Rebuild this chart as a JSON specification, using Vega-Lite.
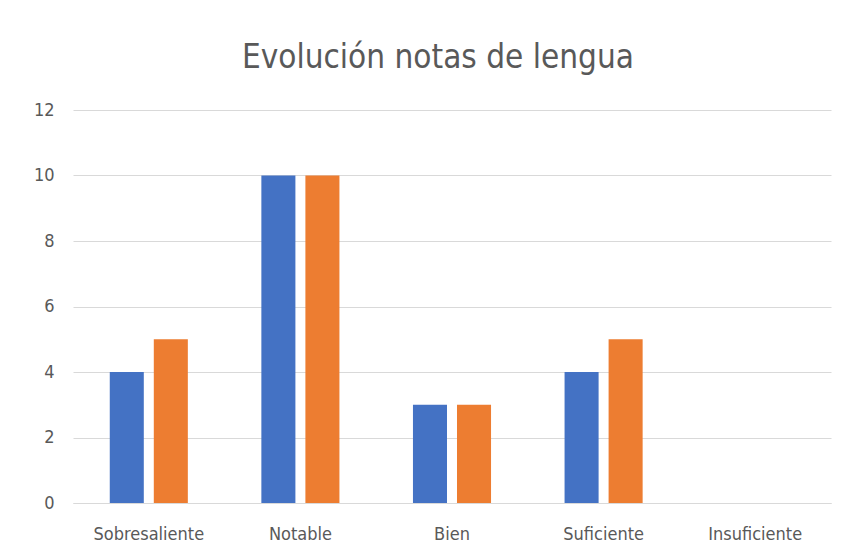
{
  "$schema": "https://vega.github.io/schema/vega-lite/v6.json",
  "width": 758,
  "height": 393,
  "autosize": {"type": "none"},
  "padding": {"left": 73, "top": 110, "right": 20, "bottom": 57},
  "background": "#ffffff",
  "title": {
    "text": "Evolución notas de lengua",
    "font": "Liberation Sans Narrow, DejaVu Sans Condensed, sans-serif",
    "fontSize": 33,
    "fontWeight": "normal",
    "color": "#595959",
    "anchor": "middle",
    "dx": -14,
    "offset": 26
  },
  "data": {
    "values": [
      {"nota": "Sobresaliente", "serie": "Serie 1", "valor": 4},
      {"nota": "Sobresaliente", "serie": "Serie 2", "valor": 5},
      {"nota": "Notable", "serie": "Serie 1", "valor": 10},
      {"nota": "Notable", "serie": "Serie 2", "valor": 10},
      {"nota": "Bien", "serie": "Serie 1", "valor": 3},
      {"nota": "Bien", "serie": "Serie 2", "valor": 3},
      {"nota": "Suficiente", "serie": "Serie 1", "valor": 4},
      {"nota": "Suficiente", "serie": "Serie 2", "valor": 5},
      {"nota": "Insuficiente", "serie": "Serie 1", "valor": 0},
      {"nota": "Insuficiente", "serie": "Serie 2", "valor": 0}
    ]
  },
  "mark": {"type": "bar"},
  "encoding": {
    "x": {
      "field": "nota",
      "type": "nominal",
      "sort": ["Sobresaliente", "Notable", "Bien", "Suficiente", "Insuficiente"],
      "scale": {"paddingInner": 0.485, "paddingOuter": 0.2425},
      "axis": {
        "title": null,
        "labelAngle": 0,
        "ticks": false,
        "domain": true,
        "domainColor": "#d9d9d9",
        "labelFont": "Liberation Sans Narrow, DejaVu Sans Condensed, sans-serif",
        "labelFontSize": 18,
        "labelColor": "#595959",
        "labelPadding": 22
      }
    },
    "xOffset": {
      "field": "serie",
      "type": "nominal",
      "scale": {"paddingInner": 0.227, "paddingOuter": 0}
    },
    "y": {
      "field": "valor",
      "type": "quantitative",
      "scale": {"domain": [0, 12]},
      "axis": {
        "title": null,
        "values": [0, 2, 4, 6, 8, 10, 12],
        "ticks": false,
        "domain": false,
        "grid": true,
        "gridColor": "#d9d9d9",
        "labelFont": "Liberation Sans Narrow, DejaVu Sans Condensed, sans-serif",
        "labelFontSize": 18,
        "labelColor": "#595959",
        "labelPadding": 19
      }
    },
    "color": {
      "field": "serie",
      "type": "nominal",
      "scale": {"range": ["#4472c4", "#ed7d31"]},
      "legend": null
    }
  },
  "config": {"view": {"stroke": null}}
}
